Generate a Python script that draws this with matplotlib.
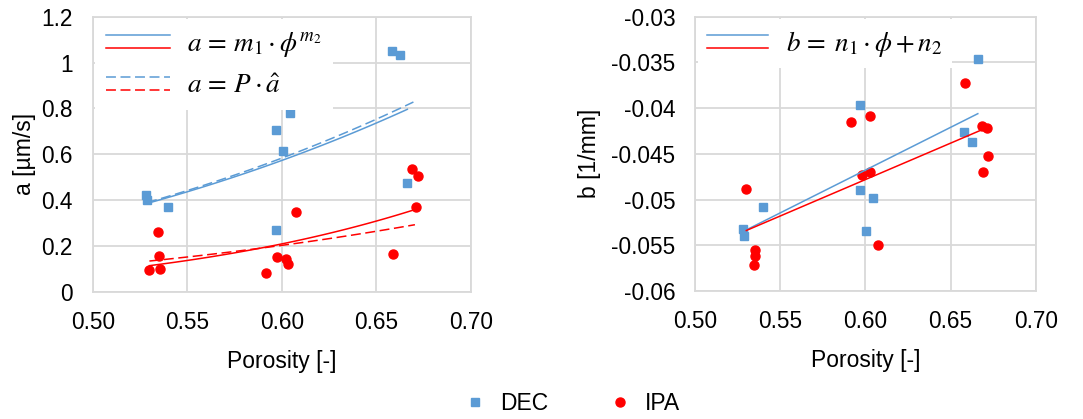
import numpy as np
import matplotlib
matplotlib.use("Agg")
import matplotlib.pyplot as plt
from matplotlib.lines import Line2D
from matplotlib.legend_handler import HandlerBase
from matplotlib.ticker import FixedLocator, FuncFormatter

plt.rcParams["font.family"] = ["Liberation Sans", "DejaVu Sans"]
plt.rcParams["mathtext.fontset"] = "stix"

# ---- data -------------------------------------------------------------
# parameter a [um/s] versus porosity
dec_phi_a = [0.5280, 0.5288, 0.5397, 0.5968, 0.5972, 0.6005, 0.6042, 0.6584, 0.6624, 0.6661]
dec_a = [0.423, 0.401, 0.372, 0.706, 0.270, 0.616, 0.779, 1.052, 1.031, 0.477]
ipa_phi_a = [0.5300, 0.5347, 0.5353, 0.5355, 0.5917, 0.5975, 0.6025, 0.6034, 0.6078,
             0.6589, 0.6691, 0.6723, 0.6711]
ipa_a = [0.096, 0.262, 0.155, 0.099, 0.081, 0.153, 0.144, 0.122, 0.347,
         0.166, 0.538, 0.507, 0.370]

# parameter b [1/mm] versus porosity
dec_phi_b = [0.5280, 0.5288, 0.5396, 0.5970, 0.5970, 0.6003, 0.6042, 0.6579, 0.6624, 0.6659]
dec_b = [-0.0532, -0.0540, -0.0508, -0.0397, -0.0490, -0.0534, -0.0498, -0.0426, -0.0437, -0.0346]
ipa_phi_b = [0.5300, 0.5353, 0.5353, 0.5347, 0.5917, 0.5977, 0.6026, 0.6028, 0.6075,
             0.6583, 0.6686, 0.6712, 0.6722, 0.6689]
ipa_b = [-0.0488, -0.0555, -0.0562, -0.0572, -0.0415, -0.0473, -0.0470, -0.0409, -0.0550,
         -0.0373, -0.0420, -0.0422, -0.0452, -0.0470]

# power-law fits a = m1 * phi^m2
dec_power = (2.832, 3.127)
ipa_power = (2.498, 4.851)
dec_power_range = (0.5288, 0.6665)
ipa_power_range = (0.5300, 0.6697)
# scaled reference curves a = P * a_hat
dec_scaled = (2.972, 3.187)
ipa_scaled = (1.097, 3.300)
dec_scaled_range = (0.5288, 0.6697)
ipa_scaled_range = (0.5300, 0.6705)
# linear fits b = n1 * phi + n2
dec_linear = (0.09346, -0.10285)
ipa_linear = (0.0796, -0.09557)
dec_linear_range = (0.5280, 0.6660)
ipa_linear_range = (0.5300, 0.6720)

x_ticks = [0.50, 0.55, 0.60, 0.65, 0.70]
a_ticks = [0, 0.2, 0.4, 0.6, 0.8, 1.0, 1.2]
b_ticks = [-0.06, -0.055, -0.05, -0.045, -0.04, -0.035, -0.03]

# ---- styling ------------------------------------------------------------
BLUE = "#5B9BD5"
RED = "#FF0000"
GRID = "#D9D9D9"
FS = 16.3
LEG_FS = 19.5


class PairedLines:
    def __init__(self, styles):
        self.styles = styles


class HandlerPaired(HandlerBase):
    def create_artists(self, legend, orig_handle, xdescent, ydescent,
                       width, height, fontsize, trans):
        yc = -ydescent + height / 2.0
        offs = [4.7, -4.7]
        arts = []
        for st, dy in zip(orig_handle.styles, offs):
            ln = Line2D([-xdescent, -xdescent + width], [yc + dy, yc + dy], **st)
            ln.set_transform(trans)
            arts.append(ln)
        return arts


def style_axes(ax, yticks, xlim, ylim, yfmt):
    ax.set_xlim(*xlim)
    ax.set_ylim(*ylim)
    ax.xaxis.set_major_locator(FixedLocator(x_ticks))
    ax.yaxis.set_major_locator(FixedLocator(yticks))
    ax.xaxis.set_major_formatter(FuncFormatter(lambda v, p: f"{v:.2f}"))
    ax.yaxis.set_major_formatter(FuncFormatter(yfmt))
    ax.grid(True, color=GRID, linewidth=1.3, zorder=0)
    ax.set_axisbelow(True)
    for s in ax.spines.values():
        s.set_color(GRID)
        s.set_linewidth(1.3)
    ax.tick_params(length=0, labelsize=FS, colors="#000000")
    ax.tick_params(axis="x", pad=14)
    ax.tick_params(axis="y", pad=14.5)


fig = plt.figure(figsize=(10.83, 4.19), dpi=100)
ax1 = fig.add_axes([0.0856, 0.3031, 0.3490, 0.6570])
ax2 = fig.add_axes([0.6420, 0.3055, 0.3143, 0.6546])

# ---- left panel: a ------------------------------------------------------
style_axes(ax1, a_ticks, (0.50, 0.70), (0, 1.2), lambda v, p: f"{round(v, 3):g}")
ax1.plot(dec_phi_a, dec_a, ls="none", marker="s", ms=6, color=BLUE, zorder=3)
ax1.plot(ipa_phi_a, ipa_a, ls="none", marker="o", ms=6.5, color=RED, zorder=3)

for (m1, m2), rng, col in [(dec_power, dec_power_range, BLUE), (ipa_power, ipa_power_range, RED)]:
    xs = np.linspace(rng[0], rng[1], 100)
    ax1.plot(xs, m1 * xs ** m2, color=col, lw=1.1, zorder=4)
for (c, k), rng, col in [(dec_scaled, dec_scaled_range, BLUE), (ipa_scaled, ipa_scaled_range, RED)]:
    xs = np.linspace(rng[0], rng[1], 100)
    ax1.plot(xs, c * xs ** k, color=col, lw=1.1, dashes=(6.5, 3), zorder=4)

ax1.set_xlabel("Porosity [-]", fontsize=16.5, labelpad=11)
ax1.set_ylabel("a [µm/s]", fontsize=16.5, labelpad=4)

solid_pair = PairedLines([dict(color=BLUE, lw=1.1), dict(color=RED, lw=1.1)])
dashed_pair = PairedLines([dict(color=BLUE, lw=1.1, dashes=(6.5, 3)),
                           dict(color=RED, lw=1.1, dashes=(6.5, 3))])
ax1.legend([solid_pair, dashed_pair],
           [r"$a\,=\,m_1\cdot\phi^{m_2}$", r"$a\,=\,P\cdot\hat{a}$"],
           handler_map={PairedLines: HandlerPaired()},
           loc="upper left", bbox_to_anchor=(0, 1), borderaxespad=0.1,
           fontsize=LEG_FS, frameon=True, fancybox=False, edgecolor="none",
           facecolor="white", framealpha=1, handlelength=2.35,
           handletextpad=0.65, labelspacing=0.5, borderpad=0.4)

# ---- right panel: b -----------------------------------------------------
style_axes(ax2, b_ticks, (0.50, 0.70), (-0.06, -0.03), lambda v, p: f"{round(v, 4):g}")
ax2.plot(dec_phi_b, dec_b, ls="none", marker="s", ms=6, color=BLUE, zorder=3)
ax2.plot(ipa_phi_b, ipa_b, ls="none", marker="o", ms=6.5, color=RED, zorder=3)
for (n1, n2), rng, col in [(dec_linear, dec_linear_range, BLUE), (ipa_linear, ipa_linear_range, RED)]:
    xs = np.array(rng)
    ax2.plot(xs, n1 * xs + n2, color=col, lw=1.1, zorder=4)

ax2.set_xlabel("Porosity [-]", fontsize=16.5, labelpad=11)
ax2.set_ylabel("b [1/mm]", fontsize=16.5, labelpad=7)

ax2.legend([solid_pair], [r"$b\,=\;n_1\cdot\phi+n_2$"],
           handler_map={PairedLines: HandlerPaired()},
           loc="upper left", bbox_to_anchor=(0, 1), borderaxespad=0.1,
           fontsize=LEG_FS, frameon=True, fancybox=False, edgecolor="none",
           facecolor="white", framealpha=1, handlelength=2.25,
           handletextpad=0.65, borderpad=0.35)

# ---- shared series legend ----------------------------------------------
h_dec = Line2D([], [], ls="none", marker="s", ms=6, color=BLUE)
h_ipa = Line2D([], [], ls="none", marker="o", ms=6.5, color=RED)
fig.legend([h_dec, h_ipa], ["DEC", "IPA"], loc="center", bbox_to_anchor=(0.528, 0.036),
           ncol=2, frameon=False, fontsize=16.5, handlelength=1.0,
           handletextpad=0.6, columnspacing=2.6)

fig.savefig("out.png", dpi=100)
